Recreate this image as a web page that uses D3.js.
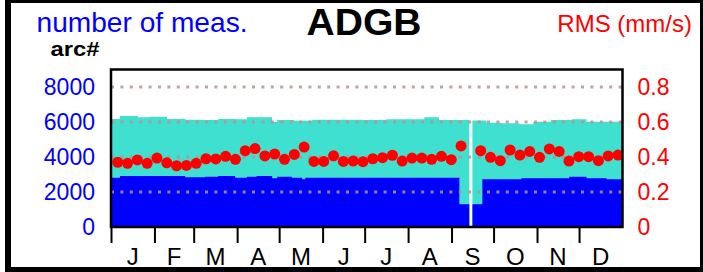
<!DOCTYPE html>
<html>
<head>
<meta charset="utf-8">
<script src="https://cdn.jsdelivr.net/npm/d3@7"></script>
<style>
body { margin: 0; background: #fff; }
svg { display: block; font-family: "Liberation Sans", Arial, sans-serif; }
</style>
</head>
<body>
<svg id="svg1" width="703" height="272"></svg>
<script>
// month labels and the day of year each month starts on
var months = ['J','F','M','A','M','J','J','A','S','O','N','D'];
var monthStarts = [0,31,59,90,120,151,181,212,243,273,304,334];

var leftTicks = [0,2000,4000,6000,8000];
var rightTicks = [0,0.2,0.4,0.6,0.8];

// number of meas. (total, turquoise) as [day of year, value] steps
var totalSteps = [[0,6171],[6.4,6343],[19.3,6268],[27.9,6303],[40,6171],[52.9,6131],[67,6114],
    [76.4,6171],[88.6,6154],[97,6268],[115,6000],[118.6,6114],[130.7,6074],[143.6,6131],
    [179,6114],[196.4,6154],[223.6,6268],[234,6114],[255.7,0],[257.9,6086],[268,5960],
    [278.6,5926],[291.4,5868],[301.4,6017],[314,6114],[328.6,6154],[339.3,6017]];

// arc# (blue) as [day of year, value] steps
var arcSteps = [[0,2817],[6.4,2914],[52.9,2840],[67,2874],[76.4,2914],[88.6,2817],[97,2874],
    [104,2914],[115,2783],[118.6,2874],[129,2817],[136.4,2726],[138.6,2817],[248.6,1297],
    [255.7,0],[257.9,1297],[265,2726],[292.9,2783],[327,2874],[339.3,2783],[353.6,2726]];

// weekly RMS (mm/s), week 37 missing
var rmsValues = [0.370,0.364,0.383,0.364,0.394,0.367,0.350,0.352,0.364,0.390,0.389,0.404,
    0.387,0.436,0.448,0.406,0.417,0.387,0.415,0.457,0.375,0.375,0.407,0.375,0.377,0.373,
    0.390,0.396,0.410,0.377,0.394,0.394,0.387,0.404,0.385,0.463,null,0.436,0.398,0.379,
    0.440,0.411,0.432,0.398,0.446,0.432,0.377,0.402,0.402,0.379,0.406,0.411];
var firstWeekDay = 4.8;

var svg = d3.select('svg');

var x = d3.scaleLinear().domain([0,365]).range([111,622.5]);
var yL = d3.scaleLinear().domain([0,9000]).range([227,69.5]);
var yR = d3.scaleLinear().domain([0,0.9]).range([227,69.5]);

svg.append('clipPath').attr('id','plotclip')
    .append('rect')
    .attr('x', x(0)).attr('y', yL(9000))
    .attr('width', x(365) - x(0)).attr('height', yL(0) - yL(9000));

var plot = svg.append('g').attr('clip-path','url(#plotclip)');

var area = d3.area()
    .x(function(d){ return x(d[0]); })
    .y0(yL(0))
    .y1(function(d){ return yL(d[1]); })
    .curve(d3.curveStepAfter);

function closeSteps(steps){
    return steps.concat([[365, steps[steps.length-1][1]]]);
}

plot.append('path')
    .attr('d', area(closeSteps(totalSteps)))
    .attr('fill','#40e0d0');

plot.append('path')
    .attr('d', area(closeSteps(arcSteps)))
    .attr('fill','#0000ff');

// dotted grid
plot.selectAll('line.grid')
    .data(leftTicks.filter(function(d){ return d > 0; }))
    .enter()
    .append('line')
    .attr('class','grid')
    .attr('x1', x(0)).attr('x2', x(365))
    .attr('y1', function(d){ return yL(d); })
    .attr('y2', function(d){ return yL(d); })
    .attr('stroke','rosybrown')
    .attr('stroke-opacity',0.85)
    .attr('stroke-width',3)
    .attr('stroke-dasharray','3 6.4');

// RMS dots
var rms = rmsValues.map(function(v,i){ return {day: firstWeekDay + 7*i, v: v}; })
    .filter(function(d){ return d.v !== null; });

plot.selectAll('circle')
    .data(rms)
    .enter()
    .append('circle')
    .attr('cx', function(d){ return x(d.day); })
    .attr('cy', function(d){ return yR(d.v); })
    .attr('r', 5.5)
    .attr('fill','#ff0000');

// plot frame
svg.append('rect')
    .attr('x', x(0)).attr('y', yL(9000))
    .attr('width', x(365) - x(0)).attr('height', yL(0) - yL(9000))
    .attr('fill','none')
    .attr('stroke','#000')
    .attr('stroke-width',2.5);

// left axis
var gl = svg.append('g')
    .attr('transform','translate(' + x(0) + ',0)')
    .call(d3.axisLeft(yL).tickValues(leftTicks).tickSize(0).tickPadding(16)
        .tickFormat(d3.format('d')));
gl.select('.domain').remove();
gl.selectAll('text')
    .attr('font-size', 23)
    .attr('font-family','"Liberation Sans", Arial, sans-serif')
    .attr('fill','#0000ff');

// right axis
var gr = svg.append('g')
    .attr('transform','translate(' + x(365) + ',0)')
    .call(d3.axisRight(yR).tickValues(rightTicks).tickSize(0).tickPadding(15)
        .tickFormat(function(d){ return d === 0 ? '0' : d3.format('.1f')(d); }));
gr.select('.domain').remove();
gr.selectAll('text')
    .attr('font-size', 23)
    .attr('font-family','"Liberation Sans", Arial, sans-serif')
    .attr('fill','#ff0000');

// month ticks
var gb = svg.append('g')
    .attr('transform','translate(0,' + yL(0) + ')')
    .call(d3.axisBottom(x).tickValues(monthStarts).tickSize(16).tickFormat(''));
gb.select('.domain').remove();
gb.selectAll('line').attr('stroke','#000').attr('stroke-width',2);

var monthEnds = monthStarts.slice(1).concat([365]);
svg.selectAll('text.month')
    .data(months)
    .enter()
    .append('text')
    .attr('class','month')
    .attr('x', function(d,i){ return x((monthStarts[i] + monthEnds[i]) / 2); })
    .attr('y', 265)
    .attr('text-anchor','middle')
    .attr('font-size', 24)
    .attr('fill','#000')
    .text(function(d){ return d; });

// titles
svg.append('text')
    .text('number of meas.')
    .attr('x', 36.5).attr('y', 32)
    .attr('font-size', 27)
    .attr('textLength', 211)
    .attr('lengthAdjust','spacingAndGlyphs')
    .attr('fill','#0000ff');

svg.append('text')
    .text('ADGB')
    .attr('x', 364).attr('y', 35)
    .attr('text-anchor','middle')
    .attr('font-size', 36)
    .attr('font-weight','bold')
    .attr('textLength', 115)
    .attr('lengthAdjust','spacingAndGlyphs')
    .attr('fill','#000');

svg.append('text')
    .text('RMS (mm/s)')
    .attr('x', 692).attr('y', 32)
    .attr('text-anchor','end')
    .attr('font-size', 24)
    .attr('fill','#ff0000');

svg.append('text')
    .text('arc#')
    .attr('x', 50.5).attr('y', 56)
    .attr('font-size', 21)
    .attr('font-weight','bold')
    .attr('textLength', 49)
    .attr('lengthAdjust','spacingAndGlyphs')
    .attr('fill','#000');

// outer frame
svg.append('rect')
    .attr('x', 8).attr('y', 0)
    .attr('width', 695).attr('height', 270)
    .attr('fill','none')
    .attr('stroke','#000')
    .attr('stroke-width',6);
</script>
</body>
</html>
